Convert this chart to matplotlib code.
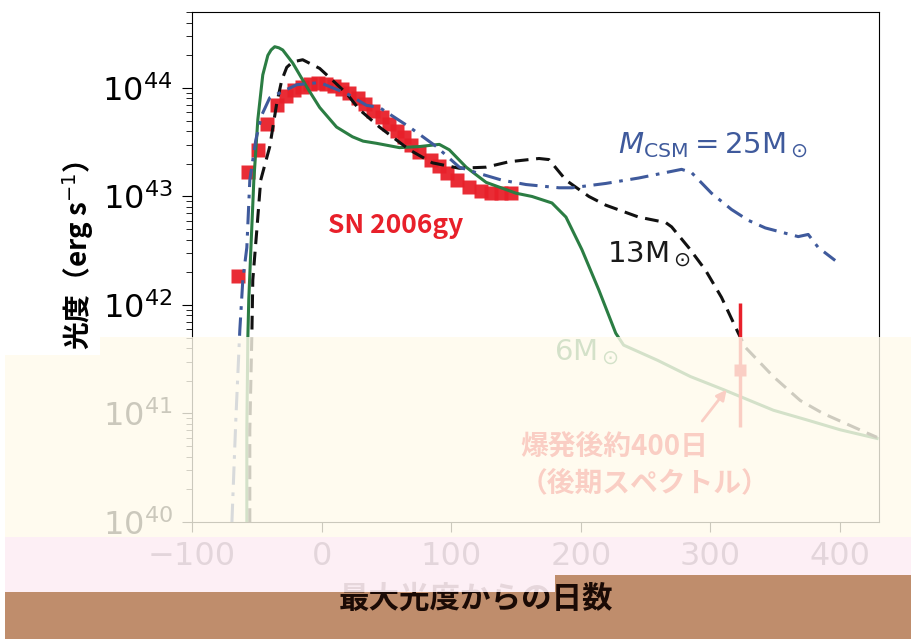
import matplotlib.pyplot as plt
from matplotlib.patches import Rectangle
import numpy as np

plt.rcParams.update({'font.size': 23})
JP = ['Noto Sans CJK JP', 'DejaVu Sans']

# -------------------------------------------------------------------------------
# SN 2006gy observed bolometric light curve (days from peak, log10 L [erg/s])
obs_day = [-64.6, -56.9, -49.2, -42.3, -34.6, -27.7, -21.5, -15.4, -9.2, -3.1,
           3.1, 9.2, 15.4, 21.5, 27.7, 33.8, 40.0, 46.2, 52.3, 58.5, 63.8,
           69.2, 75.4, 84.6, 90.8, 96.9, 104.6, 113.8, 123.1, 130.8, 138.5, 146.2]
obs_logL = [42.27, 43.23, 43.43, 43.67, 43.84, 43.93, 43.98, 44.01, 44.04, 44.05,
            44.04, 44.02, 43.99, 43.95, 43.91, 43.85, 43.79, 43.73, 43.67, 43.60, 43.55,
            43.47, 43.41, 43.34, 43.28, 43.22, 43.15, 43.09, 43.05, 43.03, 43.03, 43.03]

# late-time point (~400 days after explosion)
late_day = 323
late_logL = 41.40
late_logL_lo = 40.88
late_logL_hi = 42.02

# model: 6 Msun (green)
m6_day = [-57.7, -57.7, -56.9, -56.2, -54.6, -52.3, -49.2, -45.4, -41.5, -39.0, -36.2,
          -33.0, -30.0, -22.3, -11.5, -1.5, 11.5, 23.8, 32.0, 42.3, 60.0, 75.4, 90.8, 98.5,
          111.5, 126.9, 150.0, 162.3, 177.7, 188.5, 200.8, 213.8, 226.9, 233.0,
          259.2, 284.6, 310.0, 348.5, 374.6, 400.0, 428.5]
m6_logL = [40.0, 40.85, 41.71, 42.05, 42.51, 43.15, 43.71, 44.12, 44.30, 44.35, 44.38,
           44.37, 44.35, 44.23, 44.01, 43.82, 43.64, 43.55, 43.51, 43.49, 43.45, 43.46, 43.48, 43.43,
           43.27, 43.13, 43.03, 43.00, 42.94, 42.81, 42.51, 42.14, 41.74, 41.63,
           41.49, 41.34, 41.22, 41.03, 40.94, 40.85, 40.77]

# model: 13 Msun (black dashed)
m13_day = [-55.4, -55.4, -53.8, -53.1, -50.0, -47.0, -40.0, -34.6, -30.8, -26.9,
           -22.3, -14.6, -1.5, 8.5, 19.2, 29.2, 44.6, 67.7, 85.4, 106.2, 126.9,
           144.6, 167.7, 175.4, 188.5, 206.2, 219.2, 244.6, 265.4, 270.0, 283.1,
           296.2, 308.5, 321.5, 326.9, 348.5, 369.2, 386.9, 420.8, 428.5]
m13_logL = [40.0, 40.85, 41.74, 42.23, 42.69, 43.15, 43.46, 43.86, 44.07, 44.19,
            44.24, 44.26, 44.18, 44.07, 43.95, 43.80, 43.64, 43.43, 43.31, 43.26, 43.27,
            43.32, 43.35, 43.34, 43.15, 43.00, 42.92, 42.81, 42.76, 42.72, 42.53,
            42.32, 42.07, 41.74, 41.61, 41.34, 41.12, 41.00, 40.82, 40.78]

# model: M_CSM = 25 Msun (blue dash-dot)
m25_day = [-69.2, -66.2, -63.1, -60.8, -57.7, -55.4, -50.8, -46.2, -40.0, -19.2,
           -1.5, 19.2, 34.6, 44.6, 67.7, 88.5, 106.2, 119.2, 139.2, 157.7, 183.1,
           193.1, 219.2, 244.6, 277.7, 285.4, 300.8, 316.2, 329.2, 342.3, 367.7,
           375.4, 383.1, 396.2]
m25_logL = [40.0, 40.94, 41.77, 42.23, 42.53, 43.15, 43.52, 43.75, 43.91, 44.03,
            44.05, 43.95, 43.84, 43.82, 43.64, 43.46, 43.27, 43.22, 43.15, 43.11, 43.08,
            43.08, 43.12, 43.17, 43.25, 43.22, 43.03, 42.88, 42.78, 42.71, 42.63,
            42.65, 42.53, 42.41]

RED = '#e8202a'
GREEN = '#2b7d43'
BLUE = '#3f5a9c'

# -------------------------------------------------------------------------------
W, H = 912, 639
fig = plt.figure(figsize=(W / 100, H / 100), dpi=100)
ax = fig.add_axes([192 / W, 1 - 522 / H, (879 - 192) / W, (522 - 12) / H])

L = lambda a: 10 ** np.asarray(a)

ax.plot(m6_day, L(m6_logL), color=GREEN, lw=2.2, zorder=3)
ax.plot(m13_day, L(m13_logL), color='#111111', lw=2.2, ls=(0, (4.5, 2.5)), zorder=3)
ax.plot(m25_day, L(m25_logL), color=BLUE, lw=2.2, ls=(0, (6, 2.5, 1.2, 2.5)), zorder=3)
ax.plot(obs_day, L(obs_logL), 's', color=RED, ms=10, mec='none', zorder=2, alpha=0.95)

ax.errorbar([late_day], [L(late_logL)],
            yerr=[[L(late_logL) - L(late_logL_lo)], [L(late_logL_hi) - L(late_logL)]],
            fmt='s', color=RED, ms=9, mec='none', elinewidth=2.5, capsize=0, zorder=4)

ax.annotate('', xy=(313.8, L(41.24)), xytext=(292.3, L(40.91)),
            arrowprops=dict(arrowstyle='-|>', color=RED, lw=2, mutation_scale=15))
ax.text(153, L(40.82), '爆発後約400日\n（後期スペクトル）', color=RED, fontsize=20,
        fontweight='bold', family=JP, ha='left', va='top', linespacing=1.35)

ax.text(56.9, L(42.73), 'SN 2006gy', color=RED, fontsize=19, fontweight='bold',
        family=JP, ha='center', va='center')
ax.text(220, L(42.40), r'13M$_\odot$', color='#1a1a1a', fontsize=21, va='baseline')
ax.text(229, L(43.40), r'$M_{\rm CSM} = 25{\rm M}_\odot$', color=BLUE, fontsize=21,
        va='baseline')
ax.text(179, L(41.49), r'6M$_\odot$', color=GREEN, fontsize=21, va='baseline')

ax.set_yscale('log')
ax.set_xlim(-100, 430)
ax.set_ylim(1e40, 10 ** 44.7)
ax.set_xticks([-100, 0, 100, 200, 300, 400])
ax.tick_params(which='major', length=7, pad=7, labelsize=23)
ax.tick_params(which='minor', length=4)

fig.text(78 / W, 1 - 255 / H, '光度（erg s$^{-1}$）', rotation=90, ha='center',
         va='center', fontsize=20, fontweight='bold', family=JP)

# washed-out bands over the lower part of the image
def band(x0, y0, x1, y1, color, alpha, z):
    fig.patches.append(Rectangle((x0 / W, 1 - y1 / H), (x1 - x0) / W, (y1 - y0) / H,
                                 transform=fig.transFigure, facecolor=color,
                                 edgecolor='none', alpha=alpha, zorder=z))

band(100, 337, W, 537, '#fffbec', 0.8, 10)
band(5, 355, 100, 537, '#fffbec', 0.8, 10)
band(5, 592, 555, H, '#bf8d6c', 1.0, 10)
band(555, 575, W, H, '#bf8d6c', 1.0, 10)
fig.text(476 / W, 1 - 599 / H, '最大光度からの日数', ha='center', va='center',
         fontsize=22, fontweight='bold', family=JP, color='#1a0a05', zorder=11)
band(5, 537, 555, 592, '#fdeef4', 0.9, 12)
band(555, 537, W, 575, '#fdeef4', 0.9, 12)

fig.savefig('out.png', dpi=100)
